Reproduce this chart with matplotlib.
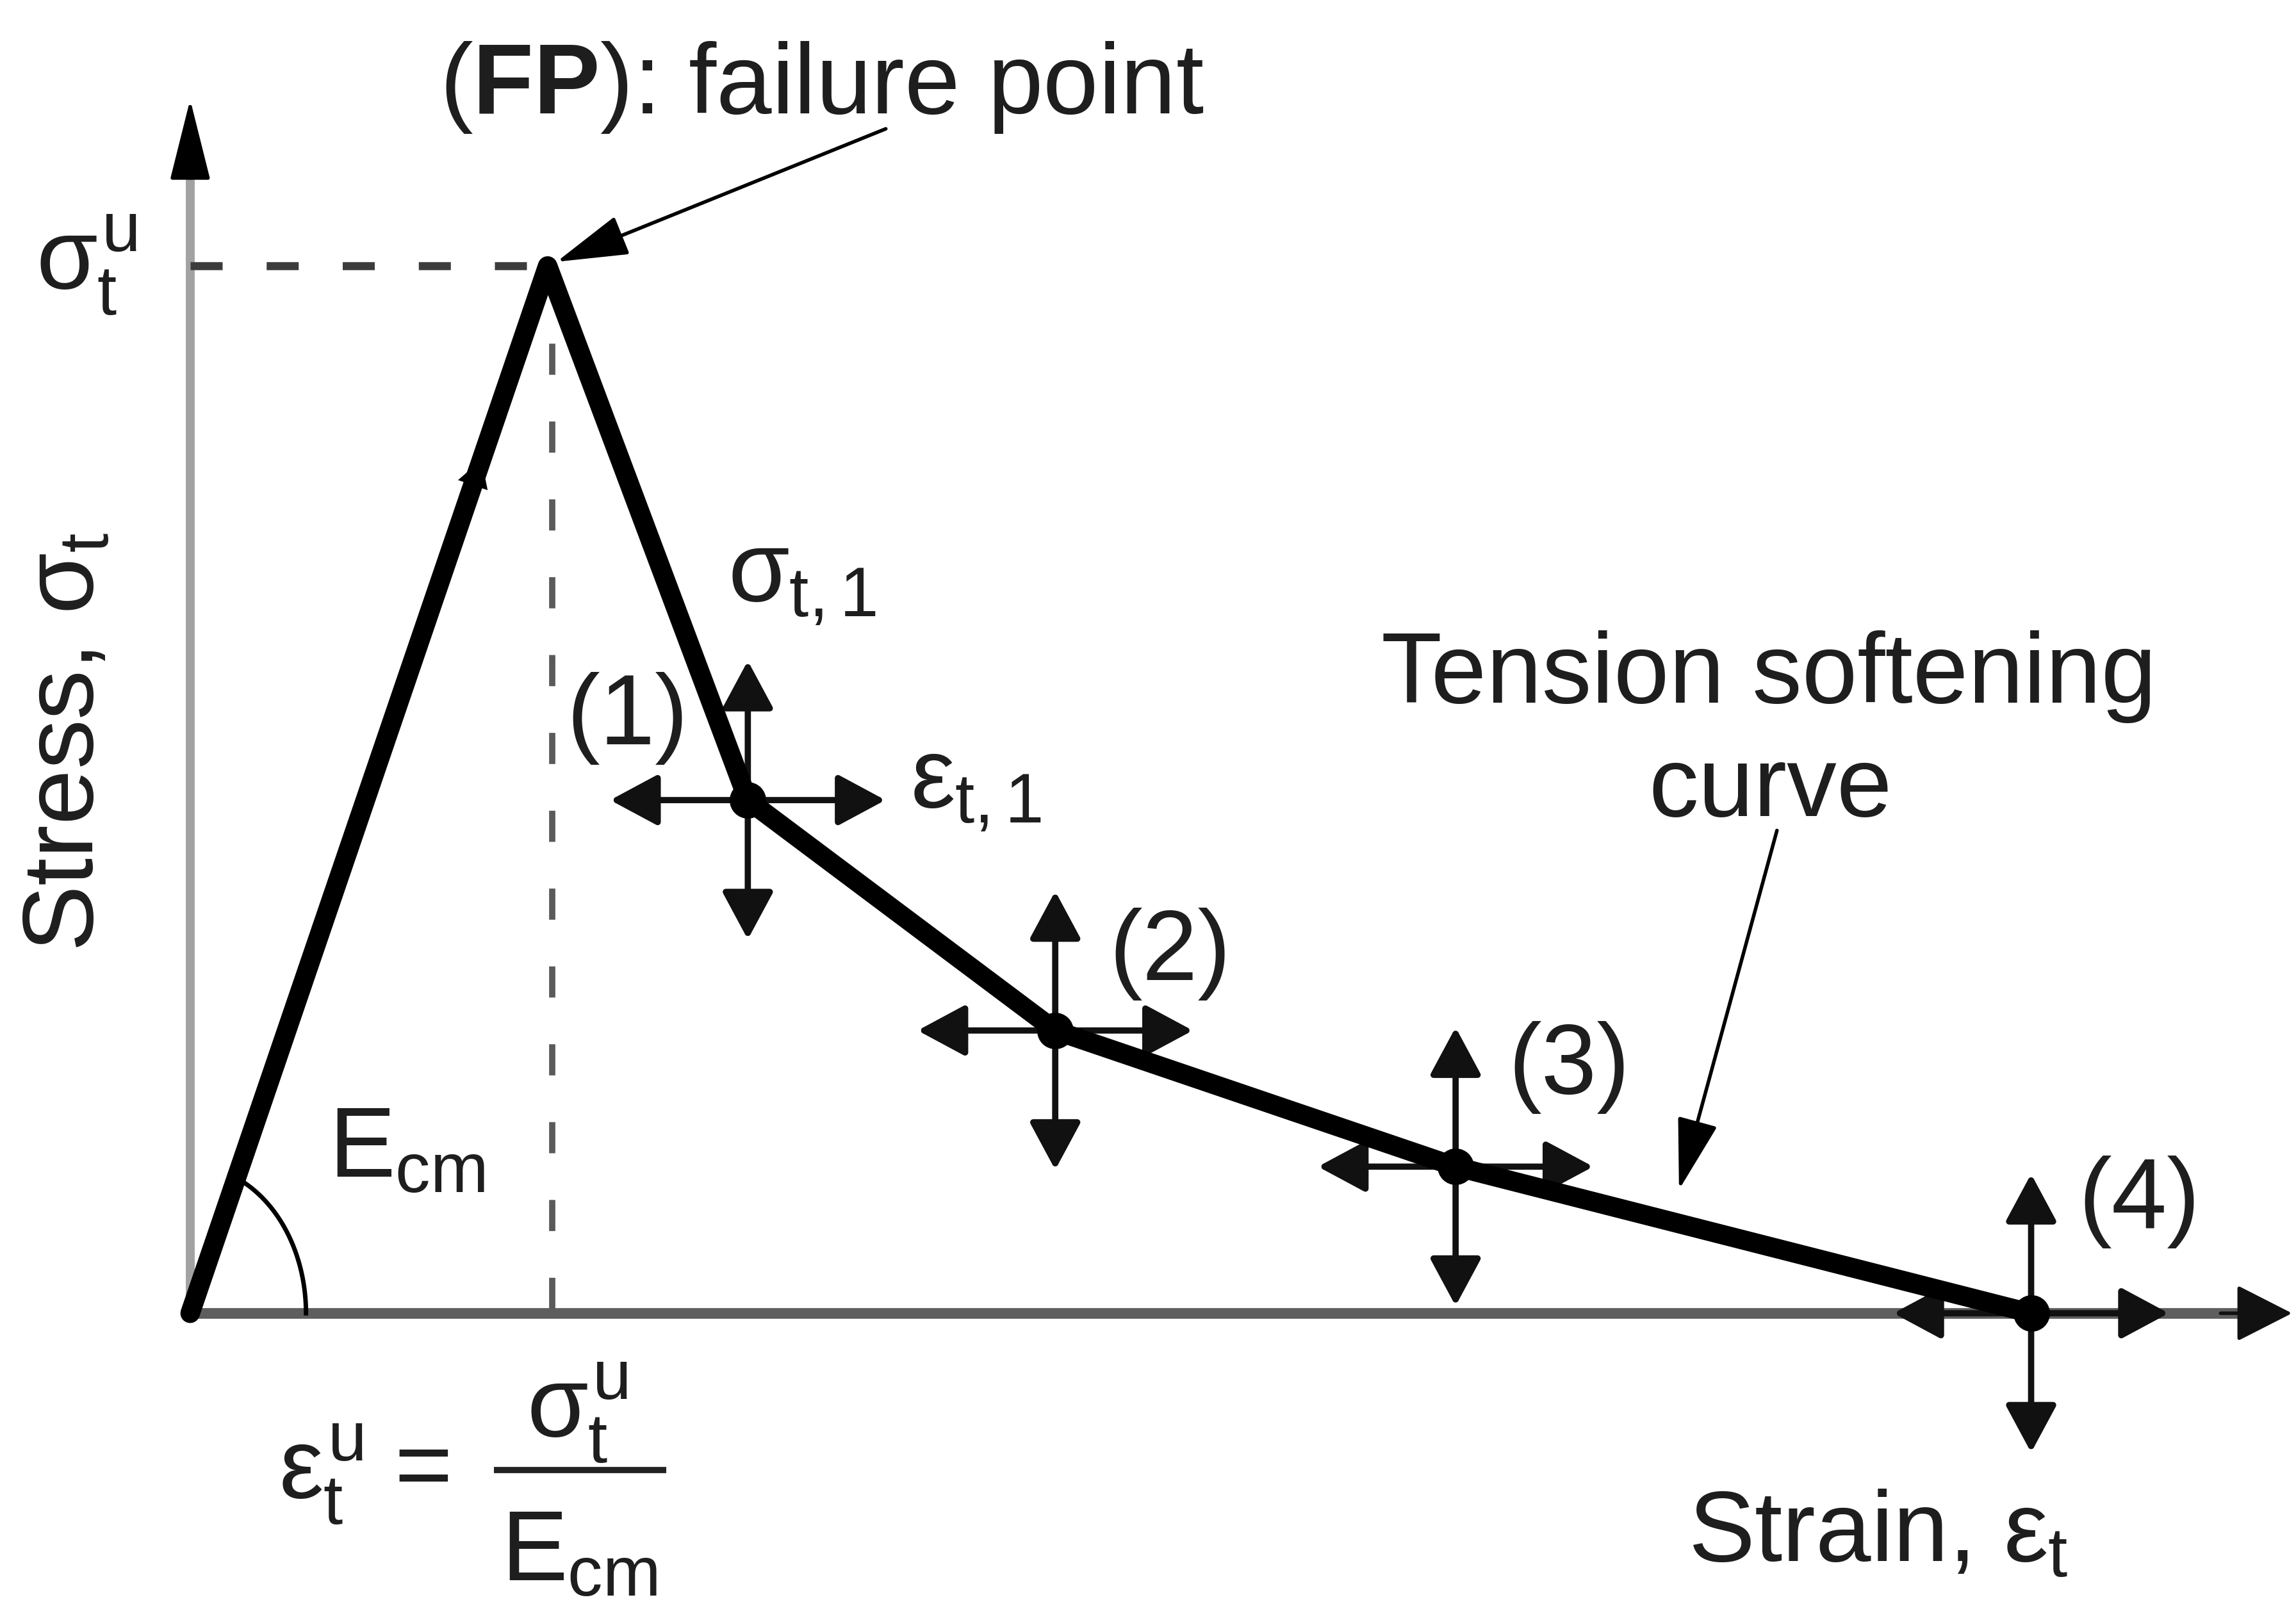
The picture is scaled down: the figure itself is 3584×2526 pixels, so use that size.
import numpy as np
import matplotlib
matplotlib.use("Agg")
import matplotlib.pyplot as plt

plt.rcParams["font.family"] = ["Liberation Sans", "DejaVu Sans"]
plt.rcParams["mathtext.fontset"] = "custom"
plt.rcParams["mathtext.rm"] = "Liberation Sans"
plt.rcParams["mathtext.it"] = "Liberation Sans"
plt.rcParams["mathtext.bf"] = "Liberation Sans:bold"

# Tension stress-strain diagram (normalised: failure point at strain 1, stress 1)
strain = [0.0, 1.0, 1.56, 2.42, 3.54, 5.15]
stress = [0.0, 1.0, 0.49, 0.27, 0.14, 0.0]
point_labels = ["(1)", "(2)", "(3)", "(4)"]
label_pos_x = [1.224, 2.742, 3.858, 5.453]
label_pos_y = [0.568, 0.343, 0.235, 0.106]

TXT = "#1e1e1e"
FS = 112

fig = plt.figure(figsize=(35.84, 25.26), dpi=100)
ax = fig.add_axes([0, 0, 1, 1])
ax.set_xlim(-0.532, 5.891)
ax.set_ylim(-0.291, 1.254)
ax.axis("off")


def arrow(p0, p1, color="k", lw=6, hl=0.4, hw=0.215, ms=100, z=4):
    ax.annotate("", xy=p1, xytext=p0,
                arrowprops=dict(arrowstyle=f"-|>,head_length={hl},head_width={hw}",
                                color=color, lw=lw, mutation_scale=ms,
                                shrinkA=0, shrinkB=0), zorder=z)


# axes
y_top, x_end = 1.159, 5.88
ax.plot([0, 0], [0, y_top - 0.05], color="#a2a2a2", lw=10, solid_capstyle="butt", zorder=1)
arrow((0, y_top - 0.075), (0, y_top), lw=4, hl=0.8, hw=0.2, z=2)
ax.plot([0, x_end - 0.1], [0, 0], color="#5e5e5e", lw=12, solid_capstyle="butt", zorder=1)
arrow((x_end - 0.2, 0), (x_end, 0), color="#111111", lw=4, hl=0.55, hw=0.28, z=2)

# dashed guides to the failure point
ax.plot([0, strain[1]], [stress[1], stress[1]], color="#3c3c3c", lw=9,
        dashes=(4, 5.5), zorder=2)
ax.plot([strain[1] + 0.013, strain[1] + 0.013], [stress[1], 0], color="#5a5a5a", lw=7,
        dashes=(5, 7.5), zorder=2)

# stress-strain curve
ax.plot(strain, stress, color="k", lw=22, solid_joinstyle="round",
        solid_capstyle="round", zorder=5)
# loading direction mark on the elastic branch
arrow((0.74, 0.74), (0.815, 0.815), lw=0.1, hl=0.6, hw=0.35, ms=50, z=6)

# angle arc for the elastic modulus
t = np.linspace(0, np.radians(61.6), 60)
ax.plot(0.324 * np.cos(t), 0.141 * np.sin(t), color="k", lw=5, zorder=3)

# cross arrows at the softening points
dx, dy = 0.385, 0.133
for xi, yi in zip(strain[2:], stress[2:]):
    for tx, ty in [(xi - dx, yi), (xi + dx, yi), (xi, yi + dy), (xi, yi - dy)]:
        arrow((xi, yi), (tx, ty), color="#111111", lw=7, ms=115)
    ax.plot(xi, yi, "o", color="k", ms=40, zorder=7)

for lab, lx, ly in zip(point_labels, label_pos_x, label_pos_y):
    ax.text(lx, ly, lab, fontsize=FS, color=TXT, ha="center", va="center")

# annotations
ax.text(1.767, 1.146, r"($\mathbf{FP}$): failure point", fontsize=FS, color=TXT,
        ha="center", va="baseline")
arrow((1.946, 1.131), (1.025, 1.004), color="k", lw=4, hl=0.7, hw=0.2)

ax.text(4.416, 0.583, "Tension softening", fontsize=FS, color=TXT,
        ha="center", va="baseline")
ax.text(4.42, 0.475, "curve", fontsize=FS, color=TXT, ha="center", va="baseline")
arrow((4.439, 0.461), (4.165, 0.118), color="k", lw=4, hl=0.7, hw=0.2)

ax.text(1.503, 0.680, r"$σ_{t,1}$", fontsize=FS, color=TXT, ha="left", va="baseline")
ax.text(2.014, 0.483, r"$ε_{t,1}$", fontsize=FS, color=TXT, ha="left", va="baseline")

ax.text(-0.344, 0.545, r"Stress, $σ_t$", fontsize=FS, color=TXT, rotation=90,
        ha="center", va="center")
ax.text(-0.289, 1.0, r"$σ_t^u$", fontsize=FS, color=TXT, ha="center", va="center")
ax.text(0.387, 0.130, r"$E_{cm}$", fontsize=FS, color=TXT, ha="left", va="baseline")
ax.text(4.19, -0.237, r"Strain, $ε_t$", fontsize=FS, color=TXT, ha="left", va="baseline")

# cracking strain definition
ax.text(0.247, -0.177, r"$ε_t^u$", fontsize=FS, color=TXT, ha="left", va="baseline")
ax.text(0.652, -0.152, "=", fontsize=FS, color=TXT, ha="center", va="center")
ax.plot([0.849, 1.332], [-0.150, -0.150], color="#222222", lw=7, solid_capstyle="butt")
ax.text(0.941, -0.118, r"$σ_t^u$", fontsize=FS, color=TXT, ha="left", va="baseline")
ax.text(0.869, -0.255, r"$E_{cm}$", fontsize=FS, color=TXT, ha="left", va="baseline")

fig.savefig("out.png", dpi=100, facecolor="white")
